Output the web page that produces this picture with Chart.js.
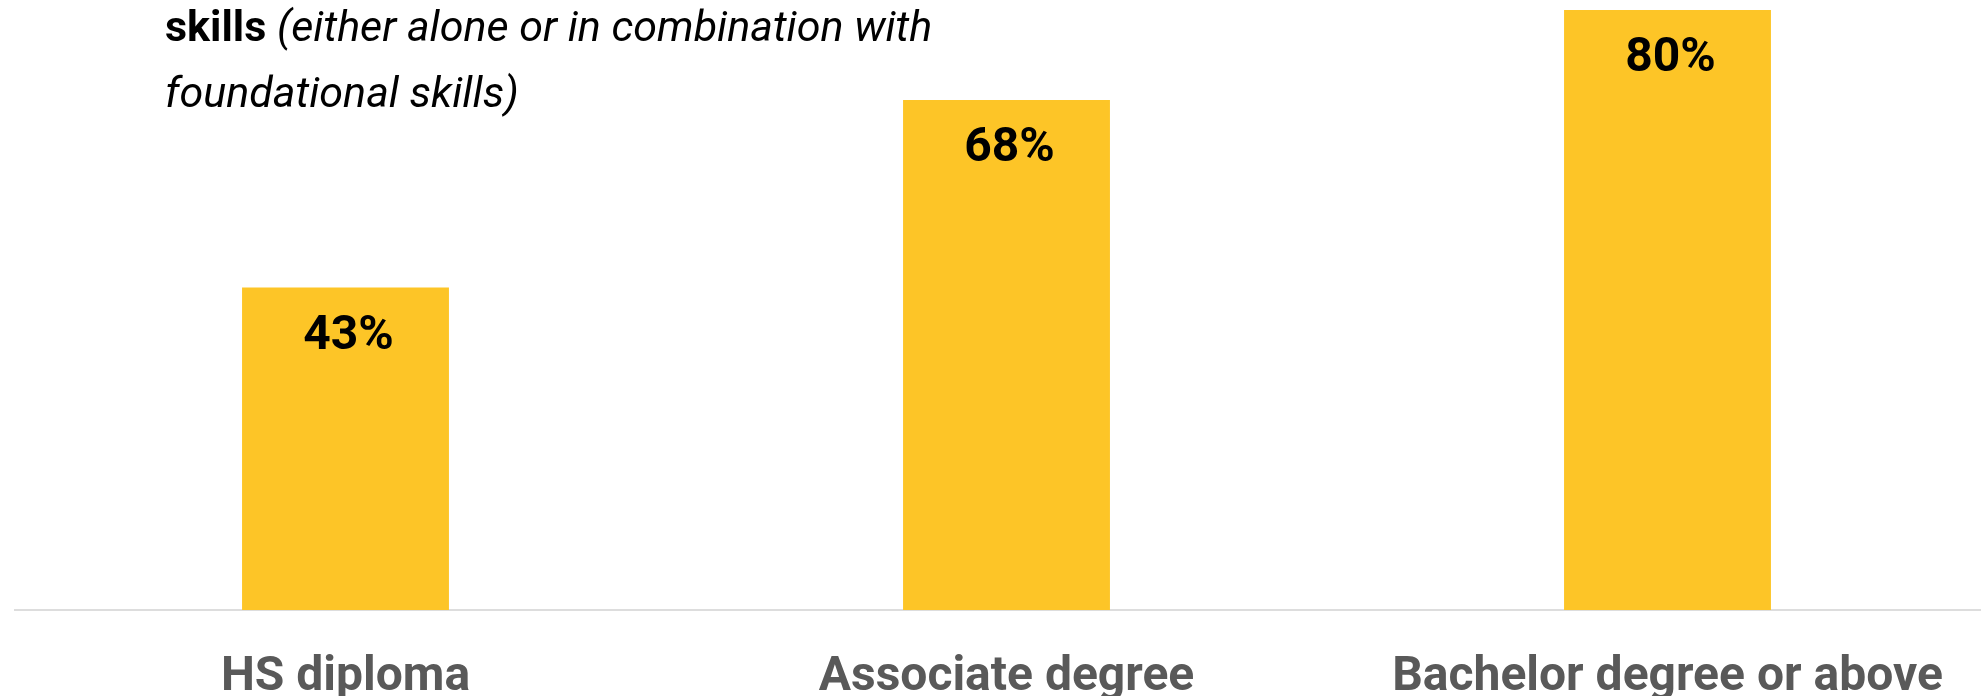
<!DOCTYPE html>
<html>
<head>
<meta charset="utf-8">
<script src="https://cdn.jsdelivr.net/npm/chart.js@4.4.1/dist/chart.umd.min.js"></script>
<style>
  html, body { margin: 0; padding: 0; background: #fff; overflow: hidden; }
  #wrap { position: relative; width: 2000px; height: 696px; }
</style>
</head>
<body>
<div id="wrap"><canvas id="eduChart"></canvas></div>
<script>
const categories = ["HS diploma", "Associate degree", "Bachelor degree or above"];
const shares = [43, 68, 80];
const yMax = 80;

// bold value inside the top of each bar
const valueLabels = {
    id: 'valueLabels',
    afterDatasetsDraw(chart) {
        const ctx = chart.ctx;
        const meta = chart.getDatasetMeta(0);
        ctx.save();
        ctx.font = 'bold 48px Roboto';
        ctx.fillStyle = '#000';
        ctx.textAlign = 'center';
        ctx.textBaseline = 'alphabetic';
        meta.data.forEach((bar, i) => {
            ctx.fillText(shares[i] + '%', bar.x + 3, bar.y + 61);
        });
        ctx.restore();
    }
};

// leftover subtitle lines in the upper left
const subtitle = {
    id: 'subtitle',
    afterDraw(chart) {
        const ctx = chart.ctx;
        ctx.save();
        ctx.fillStyle = '#000';
        ctx.textBaseline = 'alphabetic';
        ctx.textAlign = 'left';
        ctx.font = 'bold 43px Roboto';
        const lead = 'skills ';
        ctx.fillText(lead, 165, 41);
        const w = ctx.measureText(lead).width;
        ctx.font = 'italic 43px Roboto';
        ctx.fillText('(either alone or in combination with', 165 + w, 41);
        ctx.fillText('foundational skills)', 165, 107);
        ctx.restore();
    }
};

new Chart(document.getElementById('eduChart'), {
    type: 'bar',
    data: {
        labels: categories,
        datasets: [{
            data: shares,
            backgroundColor: '#fdc527',
            borderWidth: 0,
            categoryPercentage: 1,
            barPercentage: 0.313
        }]
    },
    options: {
        responsive: true,
        maintainAspectRatio: false,
        animation: false,
        layout: { padding: { left: 15, right: 2, top: 10, bottom: 0 } },
        plugins: { legend: { display: false }, tooltip: { enabled: false } },
        scales: {
            y: {
                display: false,
                min: 0,
                max: yMax
            },
            x: {
                grid: { display: false, drawTicks: false },
                border: { display: true, color: '#dddddd', width: 2 },
                ticks: {
                    padding: 39,
                    color: '#595959',
                    font: { family: 'Roboto', size: 48, weight: 'bold' },
                    maxRotation: 0,
                    autoSkip: false
                },
                afterFit(scale) { scale.height = 86; }
            }
        }
    },
    plugins: [valueLabels, subtitle]
});
</script>
</body>
</html>
